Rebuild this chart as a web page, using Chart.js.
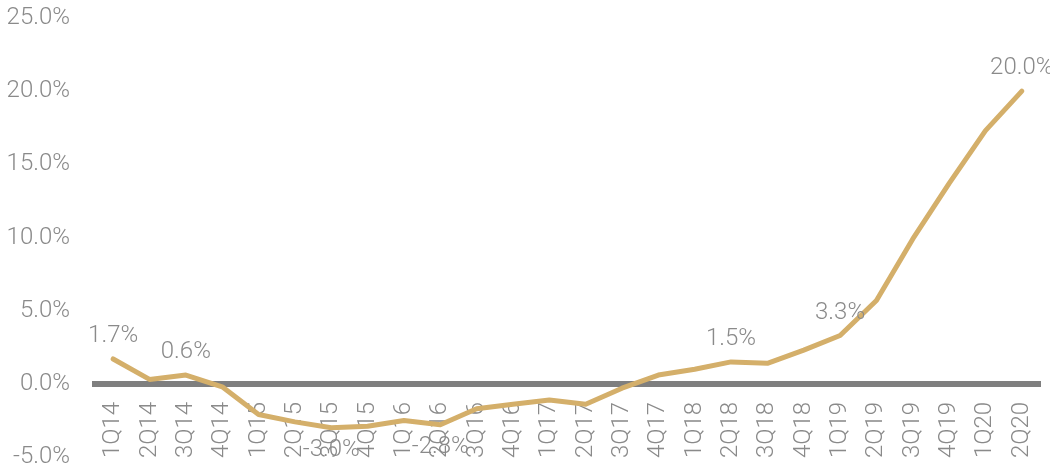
<!DOCTYPE html>
<html>
<head>
<meta charset="utf-8">
<script src="https://cdn.jsdelivr.net/npm/chart.js@4"></script>
<style>
  html, body { margin: 0; padding: 0; background: #fff; }
  #wrap { width: 1050px; height: 467px; }
</style>
</head>
<body>
<div id="wrap"><canvas id="grafico"></canvas></div>
<script>
// quarters on the x axis
const quarters = ['1Q14', '2Q14', '3Q14', '4Q14', '1Q15', '2Q15', '3Q15', '4Q15', '1Q16', '2Q16',
    '3Q16', '4Q16', '1Q17', '2Q17', '3Q17', '4Q17', '1Q18', '2Q18', '3Q18', '4Q18',
    '1Q19', '2Q19', '3Q19', '4Q19', '1Q20', '2Q20'];

// growth in %
const growth = [1.7, 0.3, 0.6, -0.2, -2.1, -2.6, -3.0, -2.9, -2.5, -2.8,
    -1.7, -1.4, -1.1, -1.4, -0.3, 0.6, 1.0, 1.5, 1.4, 2.3,
    3.3, 5.7, 9.9, 13.7, 17.3, 20.0];

// quarters that carry a value label
const labeledQuarters = ['1Q14', '3Q14', '3Q15', '2Q16', '2Q18', '1Q19', '2Q20'];

const yTicks = [-5, 0, 5, 10, 15, 20, 25];

const gray = '#8a8a8a';
const fontFamily = 'Roboto, "Noto Sans", sans-serif';

const valueLabels = {
    id: 'valueLabels',
    afterDatasetsDraw: function (chart) {
        const ctx = chart.ctx;
        const meta = chart.getDatasetMeta(0);
        ctx.save();
        ctx.font = '300 24px ' + fontFamily;
        ctx.fillStyle = gray;
        ctx.textAlign = 'center';
        ctx.textBaseline = 'middle';
        labeledQuarters.forEach(function (q) {
            const i = quarters.indexOf(q);
            const pt = meta.data[i];
            const v = growth[i];
            const dy = v < 0 ? 22 : -23;
            ctx.fillText(v.toFixed(1) + '%', pt.x, pt.y + dy);
        });
        ctx.restore();
    }
};

new Chart(document.getElementById('grafico'), {
    type: 'line',
    data: {
        labels: quarters,
        datasets: [{
            data: growth,
            borderColor: '#D4AF6A',
            borderWidth: 5,
            borderCapStyle: 'round',
            borderJoinStyle: 'round',
            pointRadius: 0,
            tension: 0,
            fill: false
        }]
    },
    options: {
        responsive: true,
        maintainAspectRatio: false,
        animation: false,
        devicePixelRatio: 1,
        layout: { padding: { left: 0, right: 10, top: 18, bottom: 10 } },
        plugins: {
            legend: { display: false },
            title: { display: false },
            tooltip: { enabled: false }
        },
        scales: {
            x: {
                position: { y: 0 },
                offset: true,
                grid: { display: false, drawTicks: false },
                border: { display: true, color: '#7f7f7f', width: 6 },
                ticks: {
                    autoSkip: false,
                    minRotation: 90,
                    maxRotation: 90,
                    padding: 18,
                    color: gray,
                    font: { family: fontFamily, size: 24, weight: '300' }
                },
                afterFit: function (s) { s.paddingLeft = 0; s.paddingRight = 0; }
            },
            y: {
                min: -5,
                max: 25,
                grid: { display: false, drawTicks: false },
                border: { display: false },
                afterBuildTicks: function (s) { s.ticks = yTicks.map(v => ({ value: v })); },
                ticks: {
                    padding: 25,
                    color: gray,
                    font: { family: fontFamily, size: 24, weight: '300' },
                    callback: v => v.toFixed(1) + '%'
                },
                afterFit: function (s) {
                    s.width = 95;
                    s.paddingTop = 0;
                    s.paddingBottom = 0;
                }
            }
        }
    },
    plugins: [valueLabels]
});
</script>
</body>
</html>
